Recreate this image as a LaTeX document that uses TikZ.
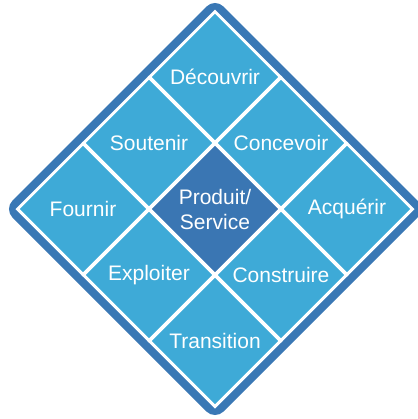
\documentclass[tikz,border=0pt]{standalone}
\usepackage{fontspec}
\setmainfont{Liberation Sans}
\usetikzlibrary{shapes.geometric}
\definecolor{cellblue}{HTML}{3EAAD7}
\definecolor{rimblue}{HTML}{3A78B5}
\definecolor{coreblue}{HTML}{3A76B3}
\begin{document}
\begin{tikzpicture}[x=1bp, y=-1bp,
    cell/.style={diamond, aspect=1, draw=white, line width=3bp, fill=cellblue, minimum size=132bp, inner sep=0pt, text=white, font=\fontsize{21bp}{25bp}\selectfont, align=center}]
    \useasboundingbox (0,0) rectangle (418,419);
    \fill[rimblue, rounded corners=12bp] (215,-2) -- (426,209) -- (215,420) -- (4,209) -- cycle ;

    \node[cell] (decouvrir) at (215,77) {Découvrir} ;
    \node[cell] (soutenir) at (149,143) {Soutenir} ;
    \node[cell] (concevoir) at (281,143) {Concevoir} ;
    \node[cell] (fournir) at (83,209) {Fournir} ;
    \node[cell, fill=coreblue] (produit) at (215,209) {Produit/\\Service} ;
    \node[cell] (acquerir) at (347,209) {Acquérir} ;
    \node[cell] (exploiter) at (149,275) {Exploiter} ;
    \node[cell] (construire) at (281,275) {Construire} ;
    \node[cell] (transition) at (215,341) {Transition} ;
\end{tikzpicture}
\end{document}
